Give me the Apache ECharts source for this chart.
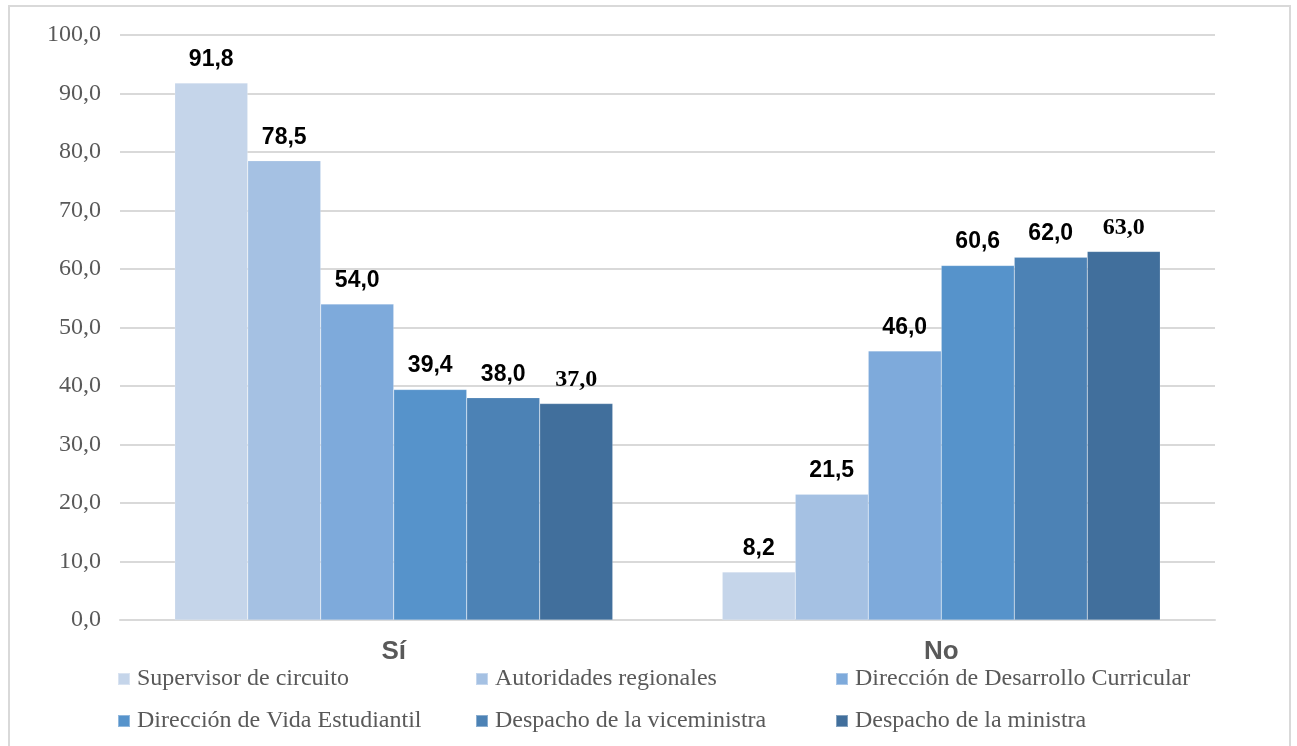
<!DOCTYPE html>
<html>
<head>
<meta charset="utf-8">
<script src="https://cdn.jsdelivr.net/npm/echarts@6/dist/echarts.min.js"></script>
<style>
  html, body { margin: 0; padding: 0; background: #fff; }
  #frame { position: absolute; left: 8px; top: 5px; width: 1283px; height: 760px; border: 2px solid #d9d9d9; box-sizing: border-box; }
  #chart { position: absolute; left: 0; top: 0; width: 1297px; height: 746px; }
</style>
</head>
<body>
<div id="frame"></div>
<div id="chart"></div>
<script>
// Response categories
const categories = ['Sí', 'No'];

// Series names
const seriesNames = [
  'Supervisor de circuito',
  'Autoridades regionales',
  'Dirección de Desarrollo Curricular',
  'Dirección de Vida Estudiantil',
  'Despacho de la viceministra',
  'Despacho de la ministra'
];

// Percentages per series: [Sí, No]
const supervisorCircuito = [91.8, 8.2];
const autoridadesRegionales = [78.5, 21.5];
const desarrolloCurricular = [54.0, 46.0];
const vidaEstudiantil = [39.4, 60.6];
const despachoViceministra = [38.0, 62.0];
const despachoMinistra = [37.0, 63.0];

// Y-axis range
const yMin = 0;
const yMax = 100;
const yStep = 10;

const seriesValues = [
  supervisorCircuito,
  autoridadesRegionales,
  desarrolloCurricular,
  vidaEstudiantil,
  despachoViceministra,
  despachoMinistra
];

const colors = ['#c5d5ea', '#a5c1e3', '#7eaadb', '#5693cb', '#4c82b5', '#416f9c'];

const fmt = v => v.toFixed(1).replace('.', ',');

const chart = echarts.init(document.getElementById('chart'), null, { renderer: 'canvas' });

// Legend laid out as a 3x2 grid
const legendCols = [117, 475, 835];
const legendRows = [667, 709];
const legends = seriesNames.map((name, i) => ({
  data: [name],
  left: legendCols[i % 3],
  top: legendRows[Math.floor(i / 3)],
  padding: 0,
  orient: 'horizontal',
  icon: 'rect',
  itemWidth: 12,
  itemHeight: 12,
  itemGap: 0,
  selectedMode: false,
  textStyle: {
    fontFamily: 'Liberation Serif',
    fontSize: 24,
    color: '#595959',
    padding: [0, 0, 0, 2]
  }
}));

const series = seriesNames.map((name, i) => ({
  name: name,
  type: 'bar',
  data: seriesValues[i],
  barGap: '0%',
  barCategoryGap: '20%',
  itemStyle: { color: colors[i], borderColor: 'rgba(255,255,255,0.35)', borderWidth: 0.5 },
  label: {
    show: true,
    position: 'top',
    distance: 12,
    formatter: p => fmt(p.value),
    fontFamily: i === 5 ? 'Liberation Serif' : 'Liberation Sans',
    fontWeight: 'bold',
    fontSize: i === 5 ? 24 : 23,
    color: '#000'
  }
}));

chart.setOption({
  animation: false,
  backgroundColor: 'transparent',
  legend: legends,
  grid: { left: 120, right: 82, top: 35, bottom: 126 },
  xAxis: {
    type: 'category',
    data: categories,
    axisLine: { lineStyle: { color: '#d9d9d9', width: 2 } },
    axisTick: { show: false },
    axisLabel: {
      margin: 19,
      fontFamily: 'Liberation Sans',
      fontWeight: 'bold',
      fontSize: 26,
      color: '#595959'
    }
  },
  yAxis: {
    type: 'value',
    min: yMin,
    max: yMax,
    interval: yStep,
    axisLine: { show: false },
    axisTick: { show: false },
    splitLine: { lineStyle: { color: '#d9d9d9', width: 2 } },
    axisLabel: {
      margin: 19,
      formatter: v => fmt(v),
      fontFamily: 'Liberation Serif',
      fontSize: 24,
      color: '#595959'
    }
  },
  series: series
});
</script>
</body>
</html>
